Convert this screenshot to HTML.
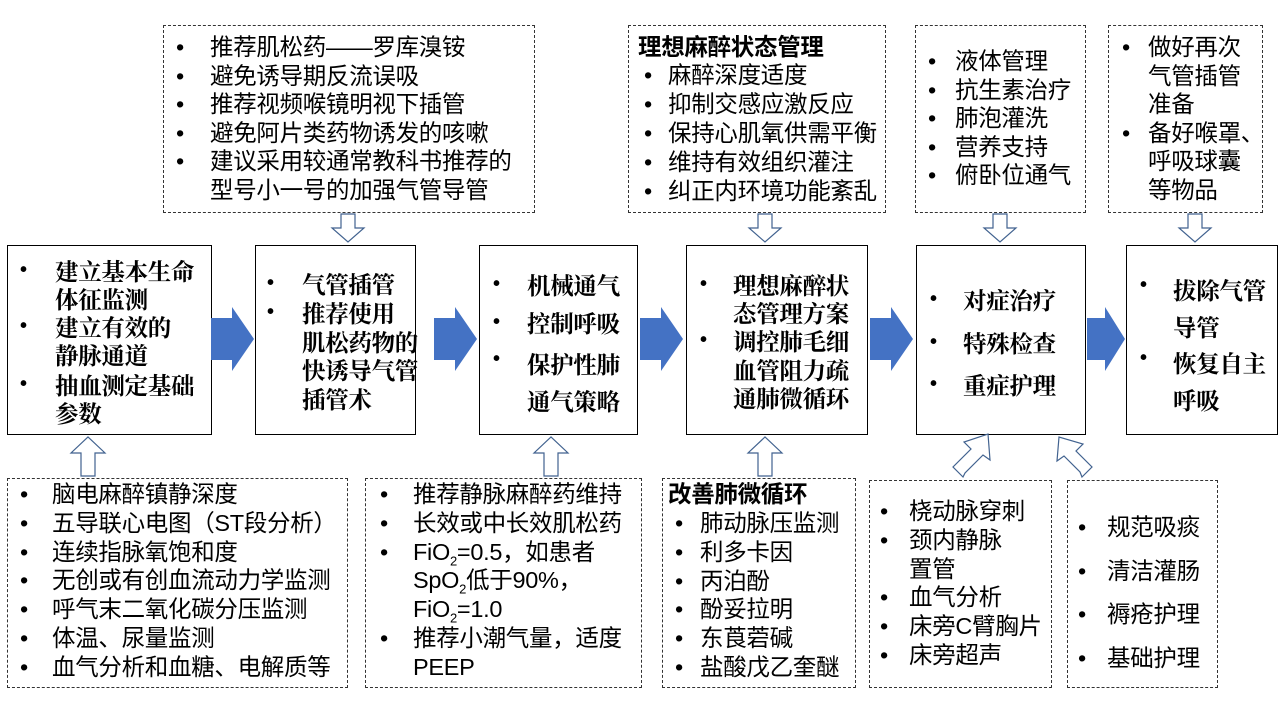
<!DOCTYPE html>
<html><head><meta charset="utf-8"><style>
body{margin:0;width:1280px;height:720px;background:#fff;position:relative;overflow:hidden;font-family:"Liberation Sans","Noto Sans CJK SC",sans-serif;color:#000}
.b{position:absolute;box-sizing:border-box;border:1.5px solid #000}
.d{position:absolute;box-sizing:border-box;border:1.3px dashed #333}
.t{position:absolute;font-size:23.5px;line-height:28px;white-space:nowrap;letter-spacing:-0.3px}
.m{font-family:"Noto Serif CJK SC","Noto Sans CJK SC",serif;font-weight:bold;font-size:23.5px}
.p{font-family:"Liberation Sans",sans-serif;font-weight:bold;font-size:20px}
.bo{font-weight:bold}
svg{position:absolute;left:0;top:0}
</style></head><body>
<div class="b" style="left:7px;top:245px;width:205px;height:190px"></div>
<div class="b" style="left:255px;top:245px;width:161px;height:190px"></div>
<div class="b" style="left:479px;top:245px;width:159px;height:190px"></div>
<div class="b" style="left:686px;top:245px;width:182px;height:190px"></div>
<div class="b" style="left:916px;top:245px;width:170px;height:190px"></div>
<div class="b" style="left:1126px;top:245px;width:152px;height:190px"></div>

<div class="d" style="left:163px;top:25px;width:372px;height:188px"></div>
<div class="d" style="left:628px;top:25px;width:258px;height:188px"></div>
<div class="d" style="left:915px;top:25px;width:171px;height:188px"></div>
<div class="d" style="left:1108px;top:25px;width:155px;height:188px"></div>
<div class="d" style="left:7px;top:478px;width:341px;height:210px"></div>
<div class="d" style="left:365px;top:478px;width:277px;height:210px"></div>
<div class="d" style="left:662px;top:478px;width:194px;height:210px"></div>
<div class="d" style="left:869px;top:480px;width:183px;height:208px"></div>
<div class="d" style="left:1067px;top:480px;width:151px;height:208px"></div>

<svg width="1280" height="720">
<g fill="#4472c4">
<polygon points="211,318 232,318 232,307 254,339 232,371 232,360 211,360"/>
<polygon points="434,318 455,318 455,307 477,339 455,371 455,360 434,360"/>
<polygon points="640,318 661,318 661,307 683,339 661,371 661,360 640,360"/>
<polygon points="870,318 891,318 891,307 913,339 891,371 891,360 870,360"/>
<polygon points="1087,318 1105,318 1105,307 1125,339 1105,371 1105,360 1087,360"/>
</g>
<g fill="#fff" stroke="#41628f" stroke-width="1.2">
<polygon points="341,214 355,214 355,228 364,228 348,242 332,228 341,228"/>
<polygon points="758,214 772,214 772,228 781,228 765,242 749,228 758,228"/>
<polygon points="993,214 1007,214 1007,228 1016,228 1000,242 984,228 993,228"/>
<polygon points="1188,214 1202,214 1202,228 1211,228 1195,242 1179,228 1188,228"/>
<polygon points="81,476 95,476 95,453 105,453 88,437 71,453 81,453"/>
<polygon points="544,476 558,476 558,453 568,453 551,437 534,453 544,453"/>
<polygon points="758,476 772,476 772,453 782,453 765,437 748,453 758,453"/>
<polygon points="963,477 953,467 971,449 964,442 988,434 990,460 983,455 965,473"/>
<polygon points="1082,477 1092,467 1076,451 1083,444 1059,437 1057,461 1064,456 1080,472"/>
</g>
</svg>

<!-- main -->
<div class="t p" style="left:20px;top:256px">•</div><div class="t m" style="left:55px;top:256px">建立基本生命<br>体征监测</div>
<div class="t p" style="left:20px;top:312px">•</div><div class="t m" style="left:55px;top:312px">建立有效的<br>静脉通道</div>
<div class="t p" style="left:20px;top:370px">•</div><div class="t m" style="left:55px;top:370px">抽血测定基础<br>参数</div>

<div class="t p" style="left:267px;top:269px">•</div><div class="t m" style="left:302px;top:269px">气管插管</div>
<div class="t p" style="left:267px;top:298px">•</div><div class="t m" style="left:302px;top:298px;line-height:28.5px">推荐使用<br>肌松药物的<br>快诱导气管<br>插管术</div>

<div class="t p" style="left:493px;top:270px">•</div><div class="t m" style="left:527px;top:270px">机械通气</div>
<div class="t p" style="left:493px;top:308px">•</div><div class="t m" style="left:527px;top:308px">控制呼吸</div>
<div class="t p" style="left:493px;top:345px">•</div><div class="t m" style="left:527px;top:345px;line-height:37px">保护性肺<br>通气策略</div>

<div class="t p" style="left:700px;top:270px">•</div><div class="t m" style="left:733px;top:270px">理想麻醉状<br>态管理方案</div>
<div class="t p" style="left:700px;top:326px">•</div><div class="t m" style="left:733px;top:326px;line-height:28.5px">调控肺毛细<br>血管阻力疏<br>通肺微循环</div>

<div class="t p" style="left:930px;top:285px">•</div><div class="t m" style="left:963px;top:285px">对症治疗</div>
<div class="t p" style="left:930px;top:328px">•</div><div class="t m" style="left:963px;top:328px">特殊检查</div>
<div class="t p" style="left:930px;top:370px">•</div><div class="t m" style="left:963px;top:370px">重症护理</div>

<div class="t p" style="left:1140px;top:271px">•</div><div class="t m" style="left:1173px;top:271px;line-height:37px">拔除气管<br>导管</div>
<div class="t p" style="left:1140px;top:344px">•</div><div class="t m" style="left:1173px;top:344px;line-height:37px">恢复自主<br>呼吸</div>

<!-- top dashed -->
<div class="t" style="left:176px;top:33px;line-height:28.5px">•<br>•<br>•<br>•<br>•</div>
<div class="t" style="left:210px;top:33px;line-height:28.5px">推荐肌松药——罗库溴铵<br>避免诱导期反流误吸<br>推荐视频喉镜明视下插管<br>避免阿片类药物诱发的咳嗽<br>建议采用较通常教科书推荐的<br>型号小一号的加强气管导管</div>

<div class="t bo" style="left:638px;top:33px">理想麻醉状态管理</div>
<div class="t" style="left:644px;top:61px;line-height:29px">•<br>•<br>•<br>•<br>•</div>
<div class="t" style="left:668px;top:61px;line-height:29px">麻醉深度适度<br>抑制交感应激反应<br>保持心肌氧供需平衡<br>维持有效组织灌注<br>纠正内环境功能紊乱</div>

<div class="t" style="left:928px;top:47px;line-height:28.5px">•<br>•<br>•<br>•<br>•</div>
<div class="t" style="left:955px;top:47px;line-height:28.5px">液体管理<br>抗生素治疗<br>肺泡灌洗<br>营养支持<br>俯卧位通气</div>

<div class="t" style="left:1122px;top:33px;line-height:28.5px">•<br><br><br>•</div>
<div class="t" style="left:1148px;top:33px;line-height:28.5px">做好再次<br>气管插管<br>准备<br>备好喉罩、<br>呼吸球囊<br>等物品</div>

<!-- bottom dashed -->
<div class="t" style="left:20px;top:480px;line-height:28.8px">•<br>•<br>•<br>•<br>•<br>•<br>•</div>
<div class="t" style="left:52px;top:480px;line-height:28.8px">脑电麻醉镇静深度<br>五导联心电图（ST段分析）<br>连续指脉氧饱和度<br>无创或有创血流动力学监测<br>呼气末二氧化碳分压监测<br>体温、尿量监测<br>血气分析和血糖、电解质等</div>

<div class="t" style="left:380px;top:480px;line-height:28.8px">•<br>•<br>•<br><br><br>•</div>
<div class="t" style="left:413px;top:480px;line-height:28.8px">推荐静脉麻醉药维持<br>长效或中长效肌松药<br>FiO<sub style="font-size:13px;line-height:0">2</sub>=0.5，如患者<br>SpO<sub style="font-size:13px;line-height:0">2</sub>低于90%，<br>FiO<sub style="font-size:13px;line-height:0">2</sub>=1.0<br>推荐小潮气量，适度<br>PEEP</div>

<div class="t bo" style="left:668px;top:480px">改善肺微循环</div>
<div class="t" style="left:675px;top:509px;line-height:28.8px">•<br>•<br>•<br>•<br>•<br>•</div>
<div class="t" style="left:700px;top:509px;line-height:28.8px">肺动脉压监测<br>利多卡因<br>丙泊酚<br>酚妥拉明<br>东莨菪碱<br>盐酸戊乙奎醚</div>

<div class="t" style="left:880px;top:497px;line-height:28.8px">•<br>•<br><br>•<br>•<br>•</div>
<div class="t" style="left:909px;top:497px;line-height:28.8px">桡动脉穿刺<br>颈内静脉<br>置管<br>血气分析<br>床旁C臂胸片<br>床旁超声</div>

<div class="t" style="left:1078px;top:506px;line-height:43.5px">•<br>•<br>•<br>•</div>
<div class="t" style="left:1107px;top:506px;line-height:43.5px">规范吸痰<br>清洁灌肠<br>褥疮护理<br>基础护理</div>
</body></html>
